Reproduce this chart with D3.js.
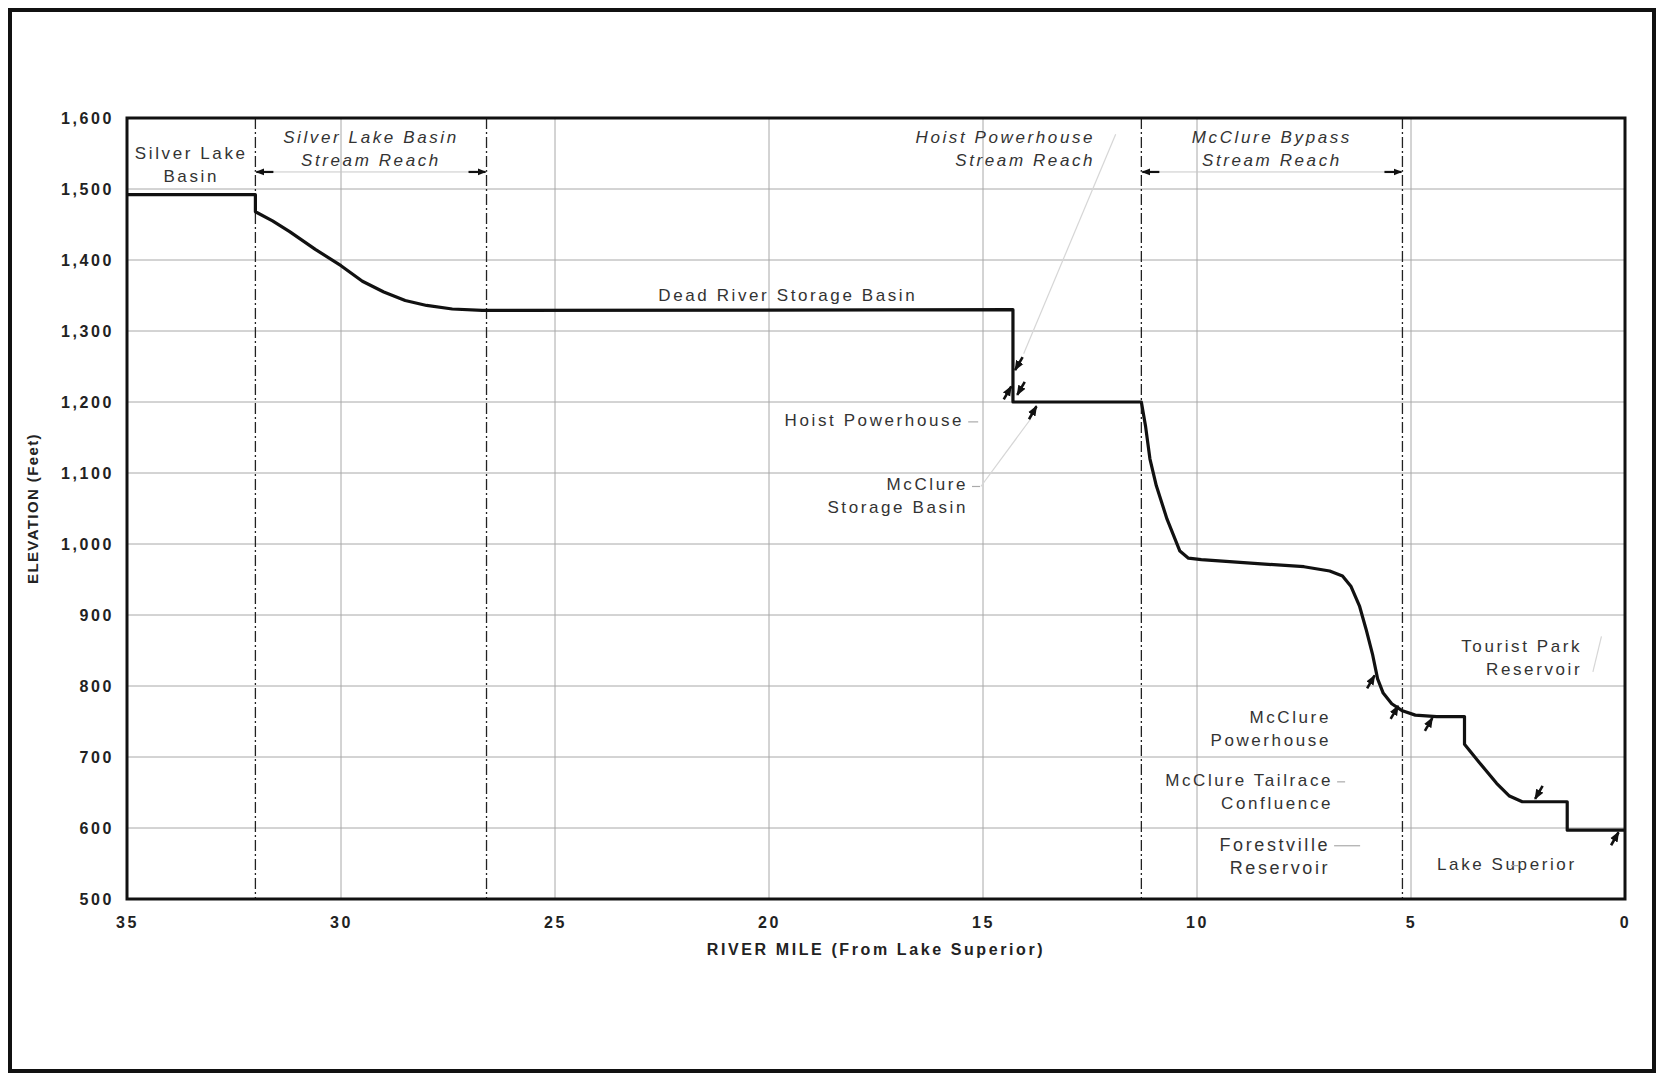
<!DOCTYPE html>
<html>
<head>
<meta charset="utf-8">
<script src="https://cdn.jsdelivr.net/npm/d3@7"></script>
<style>
  body { margin: 0; background: #fff; }
  svg { display: block; font-family: "Liberation Sans", Arial, sans-serif; }
  .tick text { font-size: 16px; font-weight: bold; letter-spacing: 2.6px; fill: #222; }
  .note { font-size: 17px; letter-spacing: 2.6px; fill: #333; }
</style>
</head>
<body>
<svg id="chart"></svg>
<script>
// river profile
const riverMile = [35, 32.0, 32.0, 31.6, 31.2, 30.6, 30.0, 29.5, 29.0, 28.5, 28.0, 27.4, 26.7,
  14.3, 14.3, 11.3, 11.2, 11.1, 10.95, 10.7, 10.4, 10.2, 9.9, 8.5, 7.5, 6.9, 6.6, 6.4, 6.2,
  6.05, 5.9, 5.78, 5.65, 5.45, 5.2, 4.9, 4.4, 3.75, 3.75, 3.4, 3.0, 2.7, 2.4, 1.35, 1.35, 0]
const elevation = [1492, 1492, 1468, 1455, 1440, 1415, 1392, 1370, 1355, 1343, 1336, 1331, 1329,
  1330, 1200, 1200, 1165, 1120, 1082, 1035, 990, 980, 978, 972, 968, 962, 955, 940, 912,
  880, 845, 810, 790, 775, 765, 759, 757, 757, 718, 692, 663, 645, 637, 637, 597, 597]

// reach boundaries (dash-dot lines)
const reachBounds = [32.0, 26.6, 11.3, 5.2]

const xTicks = [35, 30, 25, 20, 15, 10, 5, 0]
const yTicks = [500, 600, 700, 800, 900, 1000, 1100, 1200, 1300, 1400, 1500, 1600]

// labels: text lines, anchor in river mile / feet
const labels = [
  { lines: ['Silver Lake', 'Basin'], mile: 33.5, elev: 1548, anchor: 'middle' },
  { lines: ['Silver Lake Basin', 'Stream Reach'], mile: 29.3, elev: 1571, anchor: 'middle', italic: true },
  { lines: ['Hoist Powerhouse', 'Stream Reach'], mile: 12.38, elev: 1571, anchor: 'end', italic: true },
  { lines: ['McClure Bypass', 'Stream Reach'], mile: 8.25, elev: 1571, anchor: 'middle', italic: true },
  { lines: ['Dead River Storage Basin'], mile: 19.56, elev: 1348, anchor: 'middle' },
  { lines: ['Hoist Powerhouse'], mile: 15.44, elev: 1172, anchor: 'end', dash: 10 },
  { lines: ['McClure', 'Storage Basin'], mile: 15.35, elev: 1081, anchor: 'end', dash: 8 },
  { lines: ['Tourist Park', 'Reservoir'], mile: 1.0, elev: 854, anchor: 'end' },
  { lines: ['McClure', 'Powerhouse'], mile: 6.87, elev: 754, anchor: 'end' },
  { lines: ['McClure Tailrace', 'Confluence'], mile: 6.82, elev: 665, anchor: 'end', dash: 8 },
  { lines: ['Forestville', 'Reservoir'], mile: 6.89, elev: 575, anchor: 'end', dash: 26, big: true },
  { lines: ['Lake Superior'], mile: 2.76, elev: 547, anchor: 'middle', dash: 8 }
]

// small pointer arrows touching the profile
const pointerMile = [14.25, 14.34, 14.2, 13.75, 5.85, 5.3, 4.5, 2.1, 0.15]
const pointerElev = [1245, 1222, 1210, 1194, 815, 772, 755, 641, 594]
const pointerDir = ['dl', 'ur', 'dl', 'ur', 'ur', 'ur', 'ur', 'dl', 'ur']

// faint leader lines [mile1, elev1, mile2, elev2]
const leaders = [
  [11.9, 1577, 14.05, 1268],
  [15.05, 1081, 13.9, 1175],
  [0.55, 870, 0.75, 820]
]

const width = 1658, height = 1077
const MARGIN = { top: 118, right: 33, bottom: 178, left: 127 }
const boundedWidth = width - MARGIN.left - MARGIN.right
const boundedHeight = height - MARGIN.top - MARGIN.bottom

const $svg = d3.select('#chart').attr('width', width).attr('height', height)

const defs = $svg.append('defs')
defs.append('marker')
  .attr('id', 'head')
  .attr('viewBox', '0 0 10 10')
  .attr('refX', 9).attr('refY', 5)
  .attr('markerWidth', 4).attr('markerHeight', 4)
  .attr('orient', 'auto')
  .append('path')
  .attr('d', 'M0,1 L10,5 L0,9 z')
  .attr('fill', '#111')

// outer frame
$svg.append('rect')
  .attr('x', 10).attr('y', 10)
  .attr('width', width - 14).attr('height', height - 16)
  .attr('fill', 'none')
  .attr('stroke', '#111')
  .attr('stroke-width', 4)

const g = $svg.append('g').attr('transform', `translate(${MARGIN.left},${MARGIN.top})`)

const x = d3.scaleLinear().domain([35, 0]).range([0, boundedWidth])
const y = d3.scaleLinear().domain([500, 1600]).range([boundedHeight, 0])

// grid
g.append('g').selectAll('line')
  .data(yTicks.slice(1, -1))
  .join('line')
  .attr('x1', 0).attr('x2', boundedWidth)
  .attr('y1', d => y(d)).attr('y2', d => y(d))
  .attr('stroke', '#a8a8a8').attr('stroke-width', 1)
g.append('g').selectAll('line')
  .data(xTicks.slice(1, -1))
  .join('line')
  .attr('x1', d => x(d)).attr('x2', d => x(d))
  .attr('y1', 0).attr('y2', boundedHeight)
  .attr('stroke', '#a8a8a8').attr('stroke-width', 1)

// reach boundaries
g.append('g').selectAll('line')
  .data(reachBounds)
  .join('line')
  .attr('x1', d => x(d)).attr('x2', d => x(d))
  .attr('y1', 0).attr('y2', boundedHeight)
  .attr('stroke', '#222').attr('stroke-width', 1.3)
  .attr('stroke-dasharray', '11,3,2,3')

// reach arrows (Silver Lake Basin and McClure Bypass reaches)
const arrowElev = 1524
;[[reachBounds[0], reachBounds[1]], [reachBounds[2], reachBounds[3]]].forEach(([a, b]) => {
  g.append('line')
    .attr('x1', x(a)).attr('x2', x(b))
    .attr('y1', y(arrowElev)).attr('y2', y(arrowElev))
    .attr('stroke', '#c8c8c8').attr('stroke-width', 1)
  g.append('line')
    .attr('x1', x(a) + 18).attr('x2', x(a) + 1)
    .attr('y1', y(arrowElev)).attr('y2', y(arrowElev))
    .attr('stroke', '#111').attr('stroke-width', 2.2)
    .attr('marker-end', 'url(#head)')
  g.append('line')
    .attr('x1', x(b) - 18).attr('x2', x(b) - 1)
    .attr('y1', y(arrowElev)).attr('y2', y(arrowElev))
    .attr('stroke', '#111').attr('stroke-width', 2.2)
    .attr('marker-end', 'url(#head)')
})

// faint leaders
g.append('g').selectAll('line')
  .data(leaders)
  .join('line')
  .attr('x1', d => x(d[0])).attr('y1', d => y(d[1]))
  .attr('x2', d => x(d[2])).attr('y2', d => y(d[3]))
  .attr('stroke', '#d6d6d6').attr('stroke-width', 1.2)

// profile
const profile = riverMile.map((m, i) => [m, elevation[i]])
g.append('path')
  .datum(profile)
  .attr('fill', 'none')
  .attr('stroke', '#111')
  .attr('stroke-width', 3.2)
  .attr('stroke-linejoin', 'round')
  .attr('d', d3.line().x(d => x(d[0])).y(d => y(d[1])))

// pointer arrows
const ang = Math.PI / 3, len = 15
pointerMile.forEach((m, i) => {
  const tx = x(m), ty = y(pointerElev[i])
  const s = pointerDir[i] === 'ur' ? 1 : -1
  g.append('line')
    .attr('x1', tx - s * len * Math.cos(ang)).attr('y1', ty + s * len * Math.sin(ang))
    .attr('x2', tx).attr('y2', ty)
    .attr('stroke', '#111').attr('stroke-width', 2.6)
    .attr('marker-end', 'url(#head)')
})

// plot frame
g.append('rect')
  .attr('width', boundedWidth).attr('height', boundedHeight)
  .attr('fill', 'none').attr('stroke', '#111').attr('stroke-width', 3)

// axes
const $yAxis = g.append('g')
  .call(d3.axisLeft(y).tickValues(yTicks).tickSize(0).tickPadding(13).tickFormat(d3.format(',')))
$yAxis.select('.domain').remove()
const $xAxis = g.append('g')
  .attr('transform', `translate(0,${boundedHeight})`)
  .call(d3.axisBottom(x).tickValues(xTicks).tickSize(0).tickPadding(18))
$xAxis.select('.domain').remove()

$svg.append('text')
  .attr('transform', `translate(34,${MARGIN.top + boundedHeight * 0.5}) rotate(-90)`)
  .attr('text-anchor', 'middle')
  .attr('dominant-baseline', 'middle')
  .style('font-size', '15px').style('font-weight', 'bold').style('letter-spacing', '1.4px')
  .attr('fill', '#222')
  .text('ELEVATION (Feet)')

$svg.append('text')
  .attr('x', MARGIN.left + boundedWidth / 2)
  .attr('y', MARGIN.top + boundedHeight + 52)
  .attr('text-anchor', 'middle')
  .attr('dominant-baseline', 'middle')
  .style('font-size', '16px').style('font-weight', 'bold').style('letter-spacing', '2.6px')
  .attr('fill', '#222')
  .text('RIVER MILE (From Lake Superior)')

// annotation text
labels.forEach(l => {
  const t = g.append('text')
    .attr('class', 'note')
    .attr('text-anchor', l.anchor)
    .attr('dominant-baseline', 'middle')
    .style('font-style', l.italic ? 'italic' : 'normal')
  if (l.big) t.style('font-size', '18px').attr('fill', '#222')
  l.lines.forEach((s, i) => {
    t.append('tspan')
      .attr('x', x(l.mile))
      .attr('y', y(l.elev) + i * 23)
      .text(s)
  })
  if (l.dash) {
    g.append('line')
      .attr('x1', x(l.mile) + 4).attr('x2', x(l.mile) + 4 + l.dash)
      .attr('y1', y(l.elev)).attr('y2', y(l.elev))
      .attr('stroke', '#aaa').attr('stroke-width', 1.2)
  }
})
</script>
</body>
</html>
